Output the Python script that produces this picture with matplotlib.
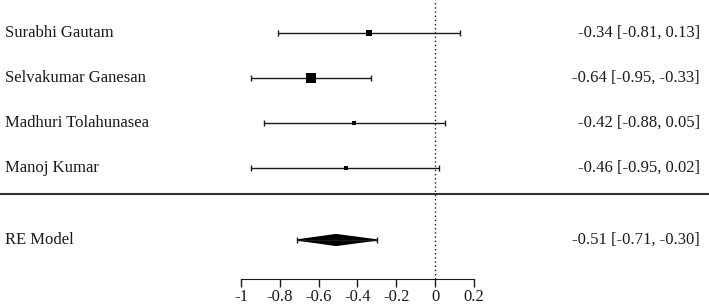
import matplotlib.pyplot as plt
from matplotlib.patches import Polygon

# study data (estimates with 95% CI)
names = ["Surabhi Gautam", "Selvakumar Ganesan", "Madhuri Tolahunasea", "Manoj Kumar"]
est = [-0.34, -0.64, -0.42, -0.46]
lo = [-0.81, -0.95, -0.88, -0.95]
hi = [0.13, -0.33, 0.05, 0.02]
weights = [24, 48, 18, 18]  # relative study weights (marker size)

# random-effects summary
re_label = "RE Model"
re_est, re_lo, re_hi = -0.51, -0.71, -0.30

xticks = [-1, -0.8, -0.6, -0.4, -0.2, 0, 0.2]
xticklabels = ["-1", "-0.8", "-0.6", "-0.4", "-0.2", "0", "0.2"]

plt.rcParams['font.family'] = ['Liberation Serif', 'DejaVu Serif']
col = '#1a1a1a'
fs = 12

fig = plt.figure(figsize=(7.09, 3.07), dpi=100)
ax = fig.add_axes([0, 0, 1, 1])
ax.set_xlim(-2.242, 1.412)
ax.set_ylim(-2.089, 4.733)

rows = [4, 3, 2, 1]
re_row = -0.6
axis_y = -1.467
cap = 0.07
x_left, x_right = -2.216, 1.366

for r, n, e, l, h, w in zip(rows, names, est, lo, hi, weights):
    ax.hlines(r, l, h, color=col, lw=1)
    ax.vlines([l, h], r - cap, r + cap, color=col, lw=1)
    ax.plot(e, r, marker='s', ms=w * 0.16, color='black', mew=0, lw=0)
    ax.text(x_left, r, n, ha='left', va='center', fontsize=fs, color=col)
    ax.text(x_right, r, "%.2f [%.2f, %.2f]" % (e, l, h), ha='right', va='center',
            fontsize=fs, color=col)

# separator
ax.axhline(0.42, color='#333333', lw=1.5)

# summary diamond
dh = 0.12
ax.add_patch(Polygon([(re_lo, re_row), (re_est, re_row + dh), (re_hi, re_row),
                      (re_est, re_row - dh)], closed=True, color='black'))
ax.hlines(re_row, re_lo, re_hi, color=col, lw=1)
ax.vlines([re_lo, re_hi], re_row - cap, re_row + cap, color=col, lw=1)
ax.text(x_left, re_row, re_label, ha='left', va='center', fontsize=fs, color=col)
ax.text(x_right, re_row, "%.2f [%.2f, %.2f]" % (re_est, re_lo, re_hi), ha='right',
        va='center', fontsize=fs, color=col)

# reference line at 0
ax.vlines(0, axis_y, 4.733, color=col, lw=1, linestyles=(0, (1, 2)))

# x axis
for s in ['top', 'left', 'right']:
    ax.spines[s].set_visible(False)
ax.spines['bottom'].set_position(('data', axis_y))
ax.spines['bottom'].set_bounds(-1, 0.2)
ax.spines['bottom'].set_color(col)
ax.set_xticks(xticks)
ax.set_xticklabels(xticklabels, fontsize=fs, color=col)
ax.tick_params(axis='x', direction='out', length=6, width=1, pad=1.5, colors=col)
ax.set_yticks([])
ax.patch.set_visible(False)

fig.savefig("out.png", dpi=100)
